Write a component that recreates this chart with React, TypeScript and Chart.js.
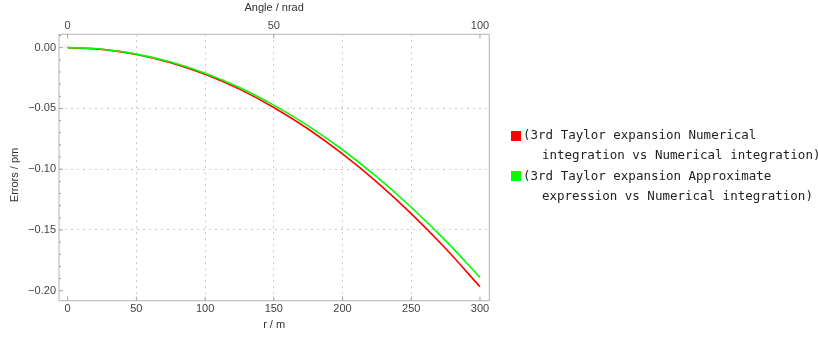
import React, { useEffect, useRef } from "react";
import { Chart, registerables } from "chart.js";

Chart.register(...registerables);

const R_VALUES = [0, 25, 50, 75, 100, 125, 150, 175, 200, 225, 250, 275, 300];
const SERIES_NUMERICAL = [0, -0.0014, -0.0055, -0.0123, -0.0219, -0.0341, -0.0492, -0.0669, -0.0874, -0.1106, -0.1366, -0.1653, -0.1967];
const SERIES_APPROX = [0, -0.0013, -0.0053, -0.0118, -0.021, -0.0328, -0.0473, -0.0643, -0.084, -0.1063, -0.1313, -0.1588, -0.189];
const X_TICKS = [0, 50, 100, 150, 200, 250, 300];
const TOP_TICKS = [0, 50, 100];
const Y_TICKS = [0, -0.05, -0.1, -0.15, -0.2];
const LEGEND_1 = ["(3rd Taylor expansion Numerical", "integration vs Numerical integration)"];
const LEGEND_2 = ["(3rd Taylor expansion Approximate", "expression vs Numerical integration)"];

const FONT = "'Liberation Sans', Arial, sans-serif";

function fmtY(v: number): string {
  const s = Math.abs(v).toFixed(2);
  return Math.abs(v) < 1e-9 ? "0.00" : "\u2212" + s;
}

const framePlugin = {
  id: "frame",
  afterDraw(chart: any) {
    const { ctx, chartArea: a, scales } = chart;
    ctx.save();
    ctx.strokeStyle = "#b4b4b4";
    ctx.lineWidth = 1;
    ctx.strokeRect(a.left, a.top, a.right - a.left, a.bottom - a.top);
    ctx.strokeStyle = "#a0a0a0";
    ctx.beginPath();
    for (const v of X_TICKS) {
      const p = scales.x.getPixelForValue(v);
      ctx.moveTo(p, a.bottom);
      ctx.lineTo(p, a.bottom - 4);
    }
    for (const v of TOP_TICKS) {
      const p = scales.x2.getPixelForValue(v);
      ctx.moveTo(p, a.top);
      ctx.lineTo(p, a.top + 4);
    }
    for (let i = -20; i <= 1; i++) {
      const p = scales.y.getPixelForValue(i / 100);
      const len = i % 5 === 0 ? 4 : 2;
      ctx.moveTo(a.left, p);
      ctx.lineTo(a.left + len, p);
    }
    ctx.stroke();
    // y axis title
    ctx.fillStyle = "#333";
    ctx.font = "11px " + FONT;
    ctx.textAlign = "center";
    ctx.textBaseline = "middle";
    ctx.translate(15, 175);
    ctx.rotate(-Math.PI / 2);
    ctx.fillText("Errors / pm", 0, 0);
    ctx.restore();
  },
};

export default function App() {
  const ref = useRef<HTMLCanvasElement | null>(null);

  useEffect(() => {
    if (!ref.current) return;
    const gridColor = (edgeVals: number[]) => (c: any) => {
      const v = c.tick ? c.tick.value : 0;
      return edgeVals.some((e) => Math.abs(e - v) < 1e-9) ? "rgba(0,0,0,0)" : "#c8c8c8";
    };
    const chart = new Chart(ref.current, {
      type: "line",
      data: {
        datasets: [
          {
            label: LEGEND_2.join(" "),
            data: R_VALUES.map((r, i) => ({ x: r, y: SERIES_APPROX[i] })),
            borderColor: "#00ff00",
            backgroundColor: "#00ff00",
            borderWidth: 1.6,
            pointRadius: 0,
            cubicInterpolationMode: "monotone",
            xAxisID: "x",
            yAxisID: "y",
            order: 0,
          },
          {
            label: LEGEND_1.join(" "),
            data: R_VALUES.map((r, i) => ({ x: r, y: SERIES_NUMERICAL[i] })),
            borderColor: "#ff0000",
            backgroundColor: "#ff0000",
            borderWidth: 1.6,
            pointRadius: 0,
            cubicInterpolationMode: "monotone",
            xAxisID: "x",
            yAxisID: "y",
            order: 1,
          },
        ],
      },
      options: {
        animation: false,
        responsive: false,
        maintainAspectRatio: false,
        layout: { padding: { left: 0, right: 328.7, top: 0, bottom: 0 } },
        plugins: { legend: { display: false }, tooltip: { enabled: false } },
        scales: {
          x: {
            type: "linear",
            position: "bottom",
            min: -6.3,
            max: 306.8,
            afterBuildTicks: (s: any) => {
              s.ticks = X_TICKS.map((v) => ({ value: v }));
            },
            afterFit: (s: any) => {
              s.height = 36.3;
            },
            ticks: {
              padding: 2,
              color: "#444",
              font: { family: FONT, size: 11 },
              maxRotation: 0,
              autoSkip: false,
              callback: (v: any) => String(v),
            },
            grid: { color: gridColor([0, 300]), drawTicks: false, lineWidth: 1 },
            border: { display: false, dash: [2, 4] },
            title: {
              display: true,
              text: "r / m",
              color: "#333",
              font: { family: FONT, size: 11 },
              padding: { top: 0, bottom: 5 },
            },
          },
          x2: {
            type: "linear",
            position: "top",
            min: -2.1,
            max: 102.27,
            afterBuildTicks: (s: any) => {
              s.ticks = TOP_TICKS.map((v) => ({ value: v }));
            },
            afterFit: (s: any) => {
              s.height = 34.3;
            },
            ticks: {
              padding: 2,
              color: "#444",
              font: { family: FONT, size: 11 },
              maxRotation: 0,
              autoSkip: false,
              callback: (v: any) => String(v),
            },
            grid: { display: false, drawTicks: false },
            border: { display: false },
            title: {
              display: true,
              text: "Angle / nrad",
              color: "#333",
              font: { family: FONT, size: 11 },
              padding: { top: 1, bottom: 0 },
            },
          },
          y: {
            type: "linear",
            position: "left",
            min: -0.2082,
            max: 0.011,
            afterBuildTicks: (s: any) => {
              s.ticks = Y_TICKS.map((v) => ({ value: v }));
            },
            afterFit: (s: any) => {
              s.width = 59;
            },
            ticks: {
              padding: 3,
              color: "#444",
              font: { family: FONT, size: 11 },
              autoSkip: false,
              callback: (v: any) => fmtY(Number(v)),
            },
            grid: { color: gridColor([0, -0.2]), drawTicks: false, lineWidth: 1 },
            border: { display: false, dash: [2, 4] },
          },
        },
      },
      plugins: [framePlugin],
    } as any);
    return () => chart.destroy();
  }, []);

  const mono = "'DejaVu Sans Mono', 'Liberation Mono', monospace";
  const lineStyle = (top: number, left: number): React.CSSProperties => ({
    position: "absolute",
    top,
    left,
    height: 20,
    lineHeight: "20px",
    fontFamily: mono,
    fontSize: 12.5,
    color: "#222",
    whiteSpace: "pre",
  });
  const sq = (top: number, color: string): React.CSSProperties => ({
    position: "absolute",
    top,
    left: 511,
    width: 10,
    height: 10,
    background: color,
  });

  return (
    <div style={{ position: "absolute", left: 0, top: 0, width: 818, height: 337, background: "#fff" }}>
      <canvas ref={ref} width={818} height={337} style={{ position: "absolute", left: 0, top: 0, width: 818, height: 337 }} />
      <div style={sq(130.5, "#ff0000")} />
      <div style={lineStyle(125, 523)}>{LEGEND_1[0]}</div>
      <div style={lineStyle(144.5, 542)}>{LEGEND_1[1]}</div>
      <div style={sq(171, "#00ff00")} />
      <div style={lineStyle(166, 523)}>{LEGEND_2[0]}</div>
      <div style={lineStyle(185.5, 542)}>{LEGEND_2[1]}</div>
    </div>
  );
}
